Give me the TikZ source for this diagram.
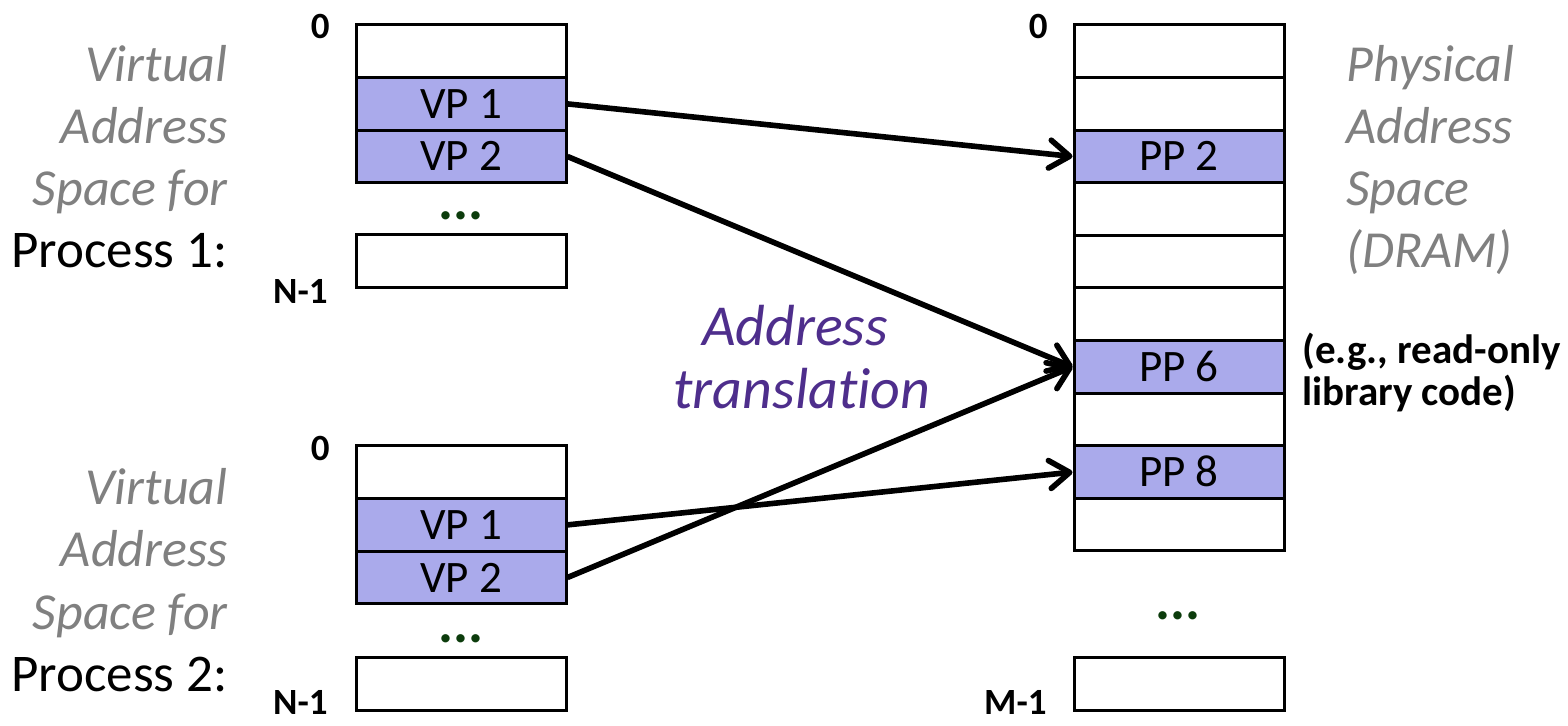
\documentclass[tikz,border=0pt]{standalone}
\usepackage{fontspec}
\setmainfont{Carlito}[Ligatures=NoCommon]
\usetikzlibrary{arrows.meta}
\definecolor{pagefill}{RGB}{170,170,235}
\definecolor{labelgray}{RGB}{128,128,128}
\definecolor{transpurple}{RGB}{78,46,140}
\definecolor{dotgreen}{RGB}{12,60,12}
\tikzset{
  cell/.style={draw, line width=1.5pt, minimum width=105pt, minimum height=26.3pt,
    inner sep=0pt, font=\fontsize{22.5}{27}\selectfont, text height=14.5pt, text depth=0pt},
  page/.style={cell, fill=pagefill},
  spacelabel/.style={inner sep=0pt, font=\fontsize{26}{31}\selectfont\itshape, text=labelgray},
  proclabel/.style={inner sep=0pt, font=\fontsize{26.5}{31}\selectfont, text=black},
  idxlabel/.style={inner sep=0pt, anchor=base east, font=\fontsize{18.5}{22}\selectfont\bfseries},
  dots/.style={inner sep=0pt, anchor=base, font=\fontsize{28}{30}\selectfont\bfseries, text=dotgreen},
  translabel/.style={inner sep=0pt, anchor=base, font=\fontsize{29}{35}\selectfont\itshape, text=transpurple},
  notelabel/.style={inner sep=0pt, anchor=base west, font=\fontsize{20.5}{25}\selectfont\bfseries},
  maparrow/.style={line width=2.8pt, -{Straight Barb[length=10pt,width=14pt,round]}}
}
\begin{document}
\begin{tikzpicture}[x=0.5pt, y=-0.5pt]
\useasboundingbox (0,0) rectangle (1568,726);

% ---- Process 1 virtual address space
\node[cell] (a0) at (461,51.3) {};
\node[page] (a1) at (461,103.9) {VP 1};
\node[page] (a2) at (461,156.5) {VP 2};
\node[cell] (aN) at (461,261.3) {};
\node[dots] (adots) at (461,220) {...};
\node[idxlabel] (a0lab) at (330,39) {0};
\node[idxlabel] (aNlab) at (328,304) {N-1};

\node[spacelabel, anchor=base east] (av) at (228,82) {Virtual};
\node[spacelabel, anchor=base east] (aa) at (228,144) {Address};
\node[spacelabel, anchor=base east] (as) at (228,206) {Space for};
\node[proclabel, anchor=base east] (ap) at (228,268) {Process 1:};

% ---- Process 2 virtual address space
\node[cell] (b0) at (461,472.3) {};
\node[page] (b1) at (461,524.9) {VP 1};
\node[page] (b2) at (461,577.5) {VP 2};
\node[cell] (bN) at (461,683.8) {};
\node[dots] (bdots) at (461,642) {...};
\node[idxlabel] (b0lab) at (330,461) {0};
\node[idxlabel] (bNlab) at (328,714) {N-1};

\node[spacelabel, anchor=base east] (bv) at (228,505) {Virtual};
\node[spacelabel, anchor=base east] (ba) at (228,567) {Address};
\node[spacelabel, anchor=base east] (bs) at (228,629) {Space for};
\node[proclabel, anchor=base east] (bp) at (228,691) {Process 2:};

% ---- Physical address space
\node[cell] (p0) at (1179,51.3) {};
\node[cell] (p1) at (1179,103.9) {};
\node[page] (p2) at (1179,156.5) {PP 2};
\node[cell] (p3) at (1179,209.1) {};
\node[cell] (p4) at (1179,261.7) {};
\node[cell] (p5) at (1179,314.3) {};
\node[page] (p6) at (1179,366.9) {PP 6};
\node[cell] (p7) at (1179,419.5) {};
\node[page] (p8) at (1179,472.1) {PP 8};
\node[cell] (p9) at (1179,524.7) {};
\node[cell] (pM) at (1179,684) {};
\node[dots] (pdots) at (1178,619) {...};
\node[idxlabel] (p0lab) at (1048,39) {0};
\node[idxlabel] (pMlab) at (1047,714) {M-1};

\node[spacelabel, anchor=base west] (pv) at (1346,82) {Physical};
\node[spacelabel, anchor=base west] (pa) at (1346,144) {Address};
\node[spacelabel, anchor=base west] (ps) at (1346,206) {Space};
\node[spacelabel, anchor=base west] (pd) at (1346,268) {(DRAM)};

\node[notelabel] (note1) at (1302,364) {(e.g., read-only};
\node[notelabel] (note2) at (1302,406) {library code)};

% ---- translation label
\node[translabel] (t1) at (795,346) {Address};
\node[translabel] (t2) at (802,409) {translation};

% ---- mappings
\draw[maparrow] (a1.east) -- (p2.west);
\draw[maparrow] (a2.east) -- (p6.west);
\draw[maparrow] (b1.east) -- (p8.west);
\draw[maparrow] (b2.east) -- (p6.west);
\end{tikzpicture}
\end{document}
